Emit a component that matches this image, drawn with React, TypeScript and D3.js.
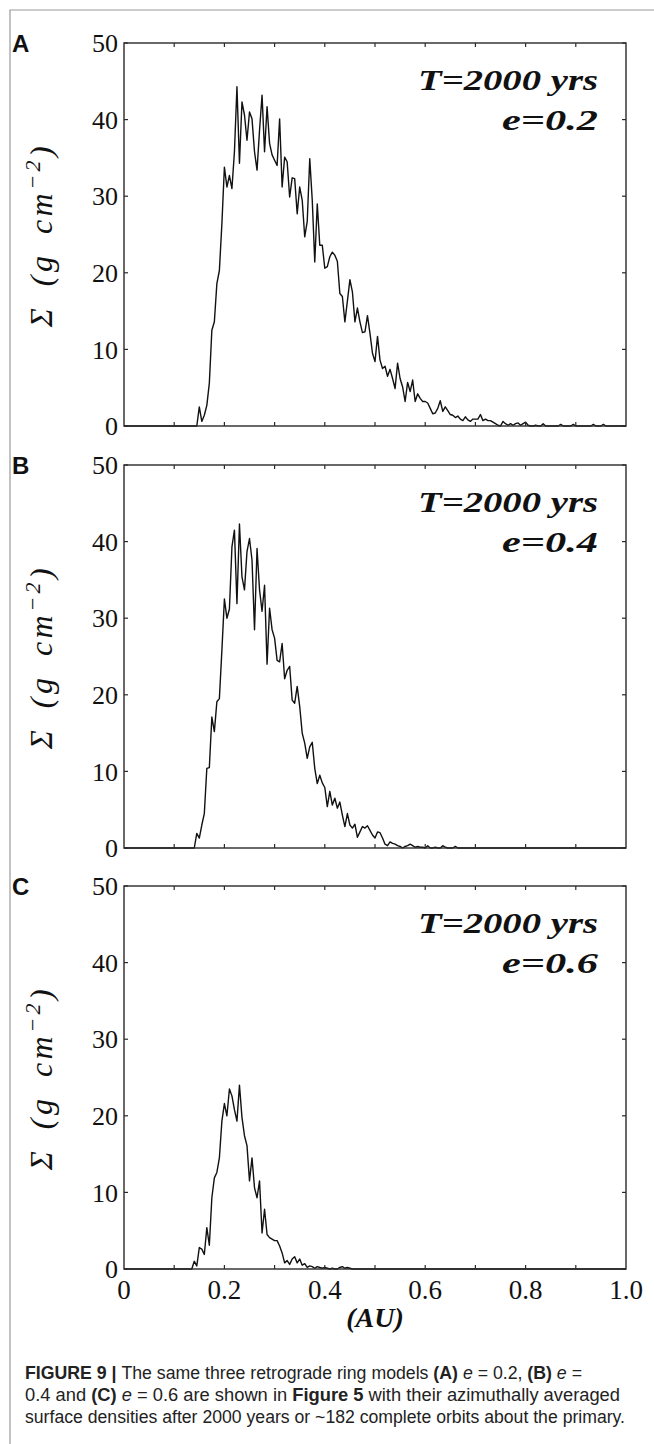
import React from "react";
import * as d3 from "d3";

// ---- data (surface density, g cm^-2), bins of 0.005 AU ----
const BIN = 0.005;
const startA = 0.145;
const valuesA = [
  0, 2.5, 0.6, 1.4, 2.7, 5.6, 12.5, 13.6, 18.6, 20.3,
  26.4, 33.8, 31.2, 32.7, 31.0, 35.8, 44.3, 34.3, 42.3, 40.6,
  37.3, 41.0, 40.1, 35.8, 33.4, 38.6, 43.2, 35.8, 41.7, 36.9,
  35.4, 34.7, 34.0, 40.1, 31.2, 35.1, 34.5, 29.9, 32.4, 32.3,
  27.7, 31.2, 29.5, 24.7, 26.7, 34.9, 29.5, 21.4, 29.0, 23.6,
  23.6, 20.6, 20.8, 22.1, 22.7, 22.3, 21.5, 17.3, 16.9, 13.6,
  16.3, 19.1, 17.5, 13.6, 15.4, 13.6, 12.2, 12.3, 14.4, 12.1,
  9.5, 8.4, 11.7, 8.6, 7.5, 7.8, 6.5, 7.4, 6.2, 4.9,
  8.2, 6.2, 5.1, 3.2, 5.7, 4.5, 6.0, 3.2, 4.2, 3.6,
  3.2, 3.2, 3.0, 2.3, 1.6, 1.7, 2.3, 3.3, 1.9, 2.5,
  2.0, 1.5, 1.4, 1.1, 1.3, 0.9, 0.7, 1.2, 0.8, 0.6,
  0.9, 0.9, 0.9, 1.5, 0.7, 0.9, 0.7, 0.7, 0.5, 0.3,
  0.1, 0, 0.6, 0.3, 0.1, 0.3, 0.1, 0.3, 0.4, 0.1,
  0.3, 0.5, 0.1, 0, 0, 0.1, 0, 0, 0.3, 0,
  0, 0, 0, 0, 0, 0.2, 0, 0, 0, 0,
  0.2, 0, 0, 0, 0, 0, 0, 0, 0.2, 0,
  0, 0, 0.2, 0, 0, 0, 0, 0,
];
const startB = 0.14;
const valuesB = [
  0, 1.9, 1.3, 3.0, 4.5, 10.4, 10.5, 17.1, 15.2, 19.1,
  19.5, 25.8, 32.5, 30.0, 31.2, 39.3, 41.5, 31.9, 42.3, 35.4,
  33.7, 38.7, 40.4, 37.6, 28.5, 39.1, 33.7, 30.9, 34.3, 24.0,
  31.3, 28.5, 27.4, 24.5, 24.3, 26.7, 22.1, 23.2, 23.7, 19.3,
  18.9, 21.1, 18.5, 15.0, 13.7, 11.7, 13.2, 13.8, 10.4, 8.4,
  9.5, 8.5, 7.9, 5.4, 7.4, 5.6, 6.5, 5.2, 6.0, 4.3,
  2.8, 4.5, 3.0, 2.6, 3.1, 1.4, 2.1, 2.8, 2.6, 2.9,
  2.3, 1.7, 1.3, 2.1, 2.0, 1.3, 0.5, 0.3, 0.8, 0.6,
  0.5, 0.3, 0.2, 0, 0.2, 0.3, 0.5, 0.3, 0.1, 0.2,
  0.1, 0.1, 0, 0.3, 0, 0, 0.1, 0, 0, 0.3,
  0.1, 0, 0, 0, 0.2, 0, 0, 0, 0,
];
const startC = 0.135;
const valuesC = [
  0, 1.0, 0.4, 2.8, 2.6, 1.9, 5.4, 3.1, 9.3, 11.9,
  12.6, 14.5, 19.3, 21.6, 20.0, 23.5, 22.6, 20.8, 19.3, 24.0,
  19.8, 17.4, 16.1, 11.5, 14.5, 10.6, 9.3, 11.5, 4.7, 7.8,
  4.5, 4.1, 3.9, 3.7, 3.7, 3.0, 2.1, 0.8, 1.1, 0.6,
  1.3, 1.6, 0.8, 1.3, 0.5, 0.7, 0.2, 0.4, 0.3, 0.1,
  0.3, 0.2, 0.1, 0.2, 0.1, 0, 0.1, 0, 0, 0.2,
  0.3, 0.1, 0.2, 0.1, 0,
];

const panelLetters = ["A", "B", "C"];
const eccentricities = ["e=0.2", "e=0.4", "e=0.6"];
const timeLabel = "T=2000 yrs";
const yTickValues = [0, 10, 20, 30, 40, 50];
const xTickLabelValues = [0, 0.2, 0.4, 0.6, 0.8, 1.0];
const xTickLabels = ["0", "0.2", "0.4", "0.6", "0.8", "1.0"];
const xMinorTickValues = [0.1, 0.2, 0.3, 0.4, 0.5, 0.6, 0.7, 0.8, 0.9];

const seriesList = [
  { start: startA, values: valuesA },
  { start: startB, values: valuesB },
  { start: startC, values: valuesC },
];

function buildSeries(start: number, values: number[]): [number, number][] {
  const pts: [number, number][] = [];
  const nLead = Math.round(start / BIN);
  for (let i = 0; i < nLead; i++) pts.push([i * BIN, 0]);
  values.forEach((v, i) => pts.push([start + i * BIN, v]));
  const last = start + (values.length - 1) * BIN;
  let k = 1;
  while (last + k * BIN <= 1.0 + 1e-9) {
    pts.push([last + k * BIN, 0]);
    k++;
  }
  return pts;
}

const LEFT = 124;
const RIGHT = 626;
const panelTops = [43, 465, 886];
const PANEL_H = 383;

const serif = "'Liberation Serif', 'Times New Roman', serif";
const sans = "'Liberation Sans', Arial, Helvetica, sans-serif";

export default function App() {
  const x = d3.scaleLinear().domain([0, 1]).range([LEFT, RIGHT]);
  const axisColor = "#2a2a2a";
  const tickLen = 4;

  return (
    <svg
      width={654}
      height={1444}
      style={{ position: "absolute", left: 0, top: 0, background: "#fff" }}
      xmlns="http://www.w3.org/2000/svg"
    >
      <rect x={0} y={0} width={654} height={1444} fill="#fff" />
      {/* outer figure frame */}
      <path d="M10,1444 V10 H654" fill="none" stroke="#9a9a9a" strokeWidth={1.2} />

      {panelTops.map((top, pi) => {
        const bottom = top + PANEL_H;
        const y = d3.scaleLinear().domain([0, 50]).range([bottom, top]);
        const data = buildSeries(seriesList[pi].start, seriesList[pi].values);
        const line = d3
          .line<[number, number]>()
          .x((d) => x(d[0]))
          .y((d) => y(d[1]));
        return (
          <g key={pi}>
            {/* panel letter */}
            <text x={12} y={top + 9} fontFamily={sans} fontWeight="bold" fontSize={24} fill="#111">
              {panelLetters[pi]}
            </text>
            {/* data line */}
            <path d={line(data) || ""} fill="none" stroke="#111" strokeWidth={1.4} strokeLinejoin="round" />
            {/* frame */}
            <rect x={LEFT} y={top} width={RIGHT - LEFT} height={PANEL_H} fill="none" stroke={axisColor} strokeWidth={1.4} />
            {/* x ticks top & bottom */}
            {xMinorTickValues.map((t) => (
              <g key={"xt" + t}>
                <line x1={x(t)} x2={x(t)} y1={bottom} y2={bottom - tickLen} stroke={axisColor} strokeWidth={1.2} />
                <line x1={x(t)} x2={x(t)} y1={top} y2={top + tickLen} stroke={axisColor} strokeWidth={1.2} />
              </g>
            ))}
            {/* y ticks left & right */}
            {yTickValues.map((t) => (
              <g key={"yt" + t}>
                <line x1={LEFT} x2={LEFT + tickLen} y1={y(t)} y2={y(t)} stroke={axisColor} strokeWidth={1.2} />
                <line x1={RIGHT} x2={RIGHT - tickLen} y1={y(t)} y2={y(t)} stroke={axisColor} strokeWidth={1.2} />
                <text
                  x={LEFT - 6}
                  y={y(t)}
                  dy="0.35em"
                  textAnchor="end"
                  fontFamily={serif}
                  fontSize={26}
                  fill="#111"
                >
                  {t}
                </text>
              </g>
            ))}
            {/* y axis label */}
            <text
              transform={`translate(52,${top + 192}) rotate(-90)`}
              textAnchor="middle"
              fontFamily={serif}
              fontStyle="italic"
              fontSize={32}
              letterSpacing={3.5}
              wordSpacing={7}
              fill="#111"
            >
              Σ (g cm
              <tspan dy={-12} fontSize={22}>
                −2
              </tspan>
              <tspan dy={12}>)</tspan>
            </text>
            {/* annotations */}
            <text
              x={598}
              y={top + 47}
              textAnchor="end"
              fontFamily={serif}
              fontStyle="italic"
              fontWeight="bold"
              fontSize={30}
              textLength={180}
              lengthAdjust="spacingAndGlyphs"
              fill="#111"
            >
              {timeLabel}
            </text>
            <text
              x={598}
              y={top + 87}
              textAnchor="end"
              fontFamily={serif}
              fontStyle="italic"
              fontWeight="bold"
              fontSize={30}
              textLength={96}
              lengthAdjust="spacingAndGlyphs"
              fill="#111"
            >
              {eccentricities[pi]}
            </text>
            {/* x tick labels on bottom panel only */}
            {pi === 2 &&
              xTickLabelValues.map((t, i) => (
                <text
                  key={"xl" + i}
                  x={x(t)}
                  y={bottom + 30}
                  textAnchor="middle"
                  fontFamily={serif}
                  fontSize={27}
                  fill="#111"
                >
                  {xTickLabels[i]}
                </text>
              ))}
            {pi === 2 && (
              <text
                x={x(0.5)}
                y={bottom + 58}
                textAnchor="middle"
                fontFamily={serif}
                fontStyle="italic"
                fontWeight="bold"
                fontSize={28}
                fill="#111"
              >
                (AU)
              </text>
            )}
          </g>
        );
      })}

      {/* caption */}
      <g fontFamily={sans} fontSize={17.5} fill="#222">
        <text x={25} y={1379} textLength={557} lengthAdjust="spacingAndGlyphs">
          <tspan fontWeight="bold">FIGURE 9 | </tspan>
          The same three retrograde ring models <tspan fontWeight="bold">(A)</tspan>{" "}
          <tspan fontStyle="italic">e</tspan> = 0.2, <tspan fontWeight="bold">(B)</tspan>{" "}
          <tspan fontStyle="italic">e</tspan> =
        </text>
        <text x={25} y={1401} textLength={595} lengthAdjust="spacingAndGlyphs">
          0.4 and <tspan fontWeight="bold">(C)</tspan> <tspan fontStyle="italic">e</tspan> = 0.6 are shown in{" "}
          <tspan fontWeight="bold">Figure 5</tspan> with their azimuthally averaged
        </text>
        <text x={25} y={1423} textLength={600} lengthAdjust="spacingAndGlyphs">
          surface densities after 2000 years or ~182 complete orbits about the primary.
        </text>
      </g>
    </svg>
  );
}
